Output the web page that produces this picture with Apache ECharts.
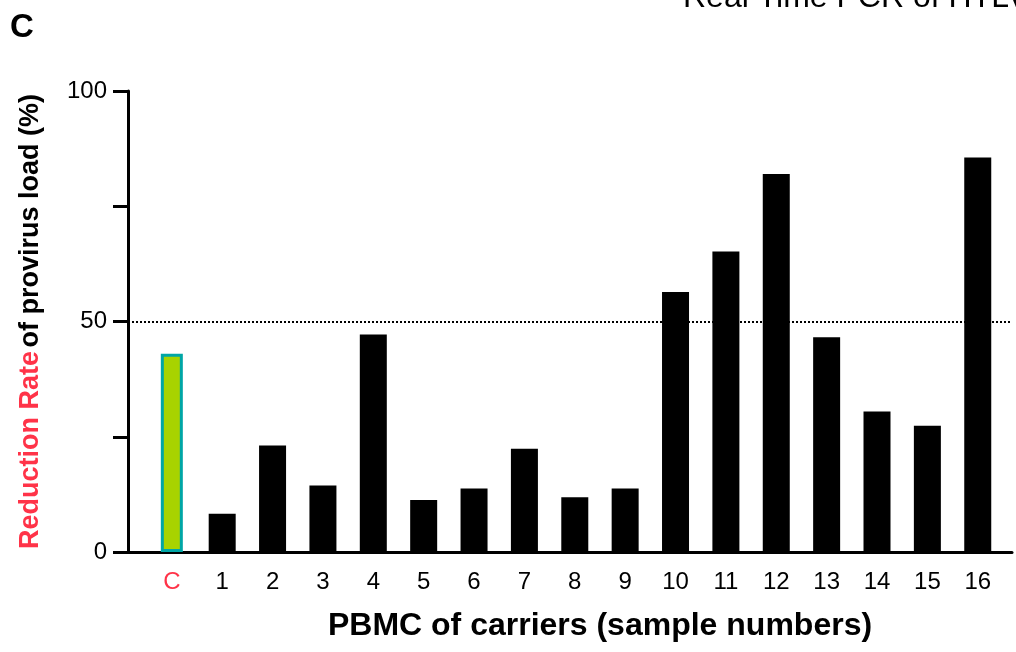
<!DOCTYPE html>
<html>
<head>
<meta charset="utf-8">
<script src="https://cdn.jsdelivr.net/npm/echarts@6/dist/echarts.min.js"></script>
<style>
  html, body { margin: 0; padding: 0; background: #fff; }
  #chart { width: 1016px; height: 652px; }
</style>
</head>
<body>
<div id="chart"></div>
<script>
// sample labels along the x axis (C = control)
var categories = ['C', '1', '2', '3', '4', '5', '6', '7', '8', '9', '10', '11', '12', '13', '14', '15', '16'];
// reduction rate of provirus load (%)
var controlValue = 43;
var carrierValues = [8.3, 23.1, 14.4, 47.2, 11.3, 13.8, 22.4, 11.9, 13.8, 56.4, 65.2, 82.0, 46.6, 30.5, 27.4, 85.6];
var yLabelShown = [0, 50, 100];
var cutoff = 50;

var fontFam = '"Liberation Sans", Arial, Helvetica, sans-serif';
var red = '#ff3348';

var chart = echarts.init(document.getElementById('chart'));

// bars sit on a value x axis so the axis line can run past the first/last bar
var carrierData = [];
for (var i = 0; i < carrierValues.length; i++) {
    carrierData.push([i + 1, carrierValues[i]]);
}

var xAxisBase = {
    type: 'value',
    min: -0.87,
    max: 16.68,
    splitLine: { show: false }
};

var option = {
    backgroundColor: '#fff',
    animation: false,
    grid: {
        left: 128,
        right: 4,
        top: 91,
        bottom: 100,
        containLabel: false,
        outerBoundsMode: 'none'
    },
    graphic: [
        {
            type: 'text',
            left: 10,
            top: 11,
            style: { text: 'C', font: 'bold 33px ' + fontFam, fill: '#000' }
        },
        {
            type: 'text',
            x: 683,
            y: -18,
            style: { text: 'Real Time PCR of HTLV-1', font: '32px ' + fontFam, fill: '#000' }
        }
    ],
    xAxis: [
        Object.assign({}, xAxisBase, {
            name: 'PBMC of carriers (sample numbers)',
            nameLocation: 'middle',
            nameGap: 58,
            nameTextStyle: { fontFamily: fontFam, fontSize: 32, fontWeight: 'bold', color: '#000', padding: [0, 0, 0, 60] },
            axisLine: { onZero: false, lineStyle: { color: '#000', width: 3 } },
            axisTick: { show: false },
            axisLabel: {
                customValues: categories.map(function (c, i) { return i; }),
                margin: 18,
                fontFamily: fontFam,
                fontSize: 24,
                color: '#000',
                formatter: function (v) {
                    var name = categories[Math.round(v)];
                    return name === 'C' ? '{r|C}' : name;
                },
                rich: { r: { color: red, fontFamily: fontFam, fontSize: 24 } }
            }
        }),
        Object.assign({}, xAxisBase, { show: false })
    ],
    yAxis: {
        type: 'value',
        min: 0,
        max: 100,
        interval: 25,
        splitLine: { show: false },
        axisLine: { show: true, onZero: false, lineStyle: { color: '#000', width: 3 } },
        axisTick: { show: true, inside: false, length: 15, lineStyle: { color: '#000', width: 3 } },
        axisLabel: {
            margin: 21,
            fontFamily: fontFam,
            fontSize: 24,
            color: '#000',
            formatter: function (v) {
                return yLabelShown.indexOf(v) >= 0 ? String(v) : '';
            }
        },
        name: '{r|Reduction Rate} {b|of provirus load (%)}',
        nameLocation: 'middle',
        nameRotate: 90,
        nameGap: 84,
        nameTextStyle: {
            rich: {
                r: { color: red, fontFamily: fontFam, fontSize: 27, fontWeight: 'bold' },
                b: { color: '#000', fontFamily: fontFam, fontSize: 27, fontWeight: 'bold' }
            }
        }
    },
    series: [
        {
            name: 'carriers',
            type: 'bar',
            xAxisIndex: 0,
            barWidth: 27,
            data: carrierData,
            itemStyle: { color: '#000' },
            markLine: {
                silent: true,
                symbol: 'none',
                label: { show: false },
                lineStyle: { color: '#000', type: 'dotted', width: 2 },
                data: [{ yAxis: cutoff }]
            }
        },
        {
            name: 'control',
            type: 'bar',
            xAxisIndex: 1,
            barWidth: 22,
            data: [[0, controlValue]],
            itemStyle: { color: '#a8d300', borderColor: '#00a6a6', borderWidth: 3 }
        }
    ]
};

chart.setOption(option);
</script>
</body>
</html>
